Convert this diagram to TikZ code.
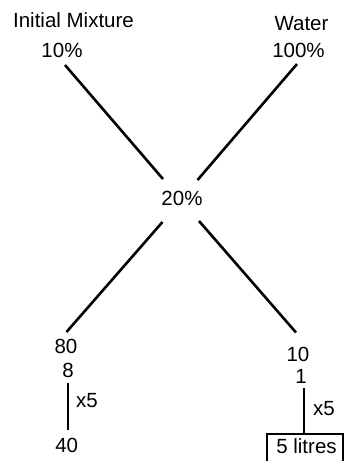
\documentclass[tikz,border=0pt]{standalone}
\usepackage{fontspec}
\setmainfont{Liberation Sans}
\begin{document}
\begin{tikzpicture}[x=1pt,y=-1pt,
  lbl/.style={font=\fontsize{20.5}{24}\selectfont, inner sep=0pt, anchor=base},
  link/.style={line width=2.6pt},
  stem/.style={line width=2.8pt}]
\useasboundingbox (0,0) rectangle (344,461);
\clip (0,0) rectangle (344,461);
% labels
\node[lbl] (im) at (73.5,27.5) {Initial Mixture};
\node[lbl] (wa) at (301.5,30.5) {Water};
\node[lbl] (p10) at (62,57) {10\%};
\node[lbl] (p100) at (298.5,57) {100\%};
\node[lbl] (p20) at (182,205) {20\%};
\node[lbl] (n80) at (66,353) {80};
\node[lbl] (n8) at (68,377) {8};
\node[lbl] (n40) at (66.7,452) {40};
\node[lbl] (n10) at (298,361) {10};
\node[lbl] (n1) at (301,383) {1};
\node[lbl, anchor=base west] (xl) at (76,407.5) {x5};
\node[lbl, anchor=base west] (xr) at (313,415) {x5};
\node[lbl] (lit) at (306.5,453) {5 litres};
% connector end points
\coordinate (a1) at (65,65);
\coordinate (a2) at (163,179);
\coordinate (b1) at (297,64);
\coordinate (b2) at (197.5,180);
\coordinate (c1) at (162.5,222);
\coordinate (c2) at (66.5,332);
\coordinate (d1) at (199,221);
\coordinate (d2) at (296,332.5);
\coordinate (e1) at (68,383);
\coordinate (e2) at (68,430);
\coordinate (f1) at (304,388);
\coordinate (f2) at (304,433);
\draw[link] (a1) -- (a2);
\draw[link] (b1) -- (b2);
\draw[link] (c1) -- (c2);
\draw[link] (d1) -- (d2);
\draw[stem] (e1) -- (e2);
\draw[stem] (f1) -- (f2);
% box around 5 litres
\draw[line width=2pt] (267,470) -- (267,433.5) -- (342.5,433.5) -- (342.5,470);
\end{tikzpicture}
\end{document}
